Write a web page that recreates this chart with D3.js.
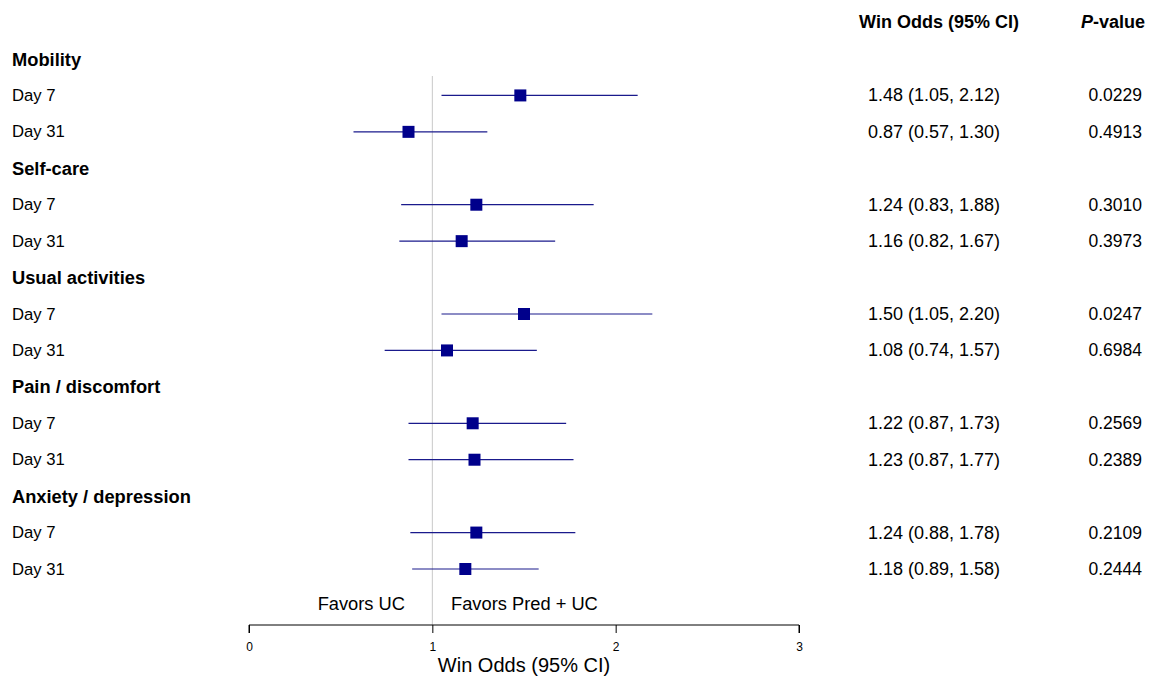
<!DOCTYPE html>
<html><head><meta charset="utf-8">
<script src="https://cdn.jsdelivr.net/npm/d3@7"></script>
<style>
body{margin:0;background:#fff;}
text{font-family:"Liberation Sans",Arial,sans-serif;}
</style></head>
<body><svg id="c" width="1150" height="677"></svg>
<script>
const domains = ["Mobility","Self-care","Usual activities","Pain / discomfort","Anxiety / depression"];
const timepoints = ["Day 7","Day 31"];
const estimates = [1.48,0.87,1.24,1.16,1.50,1.08,1.22,1.23,1.24,1.18];
const lower = [1.05,0.57,0.83,0.82,1.05,0.74,0.87,0.87,0.88,0.89];
const upper = [2.12,1.30,1.88,1.67,2.20,1.57,1.73,1.77,1.78,1.58];
const pvalues = ["0.0229","0.4913","0.3010","0.3973","0.0247","0.6984","0.2569","0.2389","0.2109","0.2444"];
const xTicks = [0,1,2,3];

const rows = [];
domains.forEach((d,i)=>{
  rows.push({type:"header",label:d,key:"h"+i});
  timepoints.forEach((t,j)=>{
    const k=i*2+j;
    rows.push({type:"item",label:t,key:"r"+k,est:estimates[k],lo:lower[k],hi:upper[k],p:pvalues[k]});
  });
});

const svg = d3.select("#c");
const x = d3.scaleLinear().domain([0,3]).range([249,799]);
const y = d3.scalePoint().domain(rows.map(r=>r.key)).range([59,569]);

// reference line
svg.append("line").attr("x1",x(1)).attr("x2",x(1)).attr("y1",76).attr("y2",625)
  .attr("stroke","#c8c8c8").attr("stroke-width",1);

// column headers
svg.append("text").attr("x",939).attr("y",22).attr("text-anchor","middle").attr("dominant-baseline","central")
  .attr("font-size",18).attr("font-weight","bold").text("Win Odds (95% CI)");
const ph = svg.append("text").attr("x",1145).attr("y",22).attr("text-anchor","end").attr("dominant-baseline","central")
  .attr("font-size",18).attr("font-weight","bold");
ph.append("tspan").attr("font-style","italic").text("P");
ph.append("tspan").text("-value");

// row labels
svg.selectAll("text.lab").data(rows).join("text").attr("class","lab")
  .attr("x",12).attr("y",r=>y(r.key)).attr("dominant-baseline","central")
  .attr("font-size",r=>r.type==="header"?18.3:16.7)
  .attr("font-weight",r=>r.type==="header"?"bold":"normal")
  .text(r=>r.label);

const items = rows.filter(r=>r.type==="item");
svg.selectAll("line.ci").data(items).join("line").attr("class","ci")
  .attr("x1",r=>x(r.lo)).attr("x2",r=>x(r.hi)).attr("y1",r=>y(r.key)).attr("y2",r=>y(r.key))
  .attr("stroke","#1a1a8c").attr("stroke-width",1.2);
const s=12;
svg.selectAll("rect.pt").data(items).join("rect").attr("class","pt")
  .attr("x",r=>x(r.est)-s/2).attr("y",r=>y(r.key)-s/2).attr("width",s).attr("height",s)
  .attr("fill","#00008b");

svg.selectAll("text.ci").data(items).join("text").attr("class","ci")
  .attr("x",934).attr("y",r=>y(r.key)).attr("text-anchor","middle").attr("dominant-baseline","central")
  .attr("font-size",18).text(r=>`${r.est.toFixed(2)} (${r.lo.toFixed(2)}, ${r.hi.toFixed(2)})`);
svg.selectAll("text.pv").data(items).join("text").attr("class","pv")
  .attr("x",1142).attr("y",r=>y(r.key)).attr("text-anchor","end").attr("dominant-baseline","central")
  .attr("font-size",17.5).text(r=>r.p);

// favors
svg.append("text").attr("x",405).attr("y",603).attr("text-anchor","end").attr("dominant-baseline","central")
  .attr("font-size",18.3).text("Favors UC");
svg.append("text").attr("x",451).attr("y",603).attr("dominant-baseline","central")
  .attr("font-size",18.3).text("Favors Pred + UC");

// axis
const ax = svg.append("g").attr("transform","translate(0,625)")
  .call(d3.axisBottom(x).tickValues(xTicks).tickSize(8).tickPadding(9).tickFormat(d3.format("d")));
ax.select(".domain").attr("stroke","#000").attr("stroke-width",1).attr("d",`M${x(0)},8V0H${x(3)}V8`);
ax.selectAll(".tick text").attr("font-family","Liberation Sans, Arial, sans-serif").attr("font-size",12).attr("fill","#000");
ax.selectAll(".tick line").attr("stroke","#000");
svg.append("text").attr("x",x(1.5)).attr("y",665).attr("text-anchor","middle").attr("dominant-baseline","central")
  .attr("font-size",20).text("Win Odds (95% CI)");
</script></body></html>
